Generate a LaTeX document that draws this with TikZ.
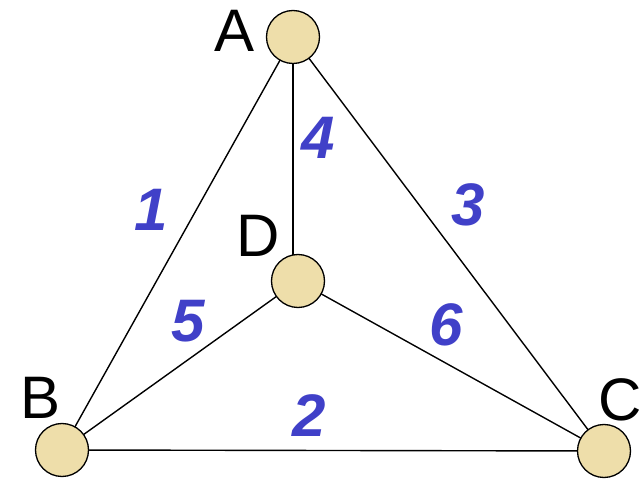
\documentclass[tikz,border=0pt]{standalone}
\usepackage{fontspec}
\setmainfont{Liberation Sans}
\definecolor{vfill}{RGB}{238,222,170}
\definecolor{lblue}{RGB}{64,64,200}
\begin{document}
\begin{tikzpicture}[x=1pt,y=-1pt,
  vertex/.style={circle,draw=black,line width=1.3pt,fill=vfill,minimum size=53pt,inner sep=0pt},
  edge/.style={draw=black,line width=1.4pt},
  vname/.style={font=\fontsize{60}{60}\selectfont,text=black,inner sep=0pt},
  elabel/.style={font=\fontsize{60}{60}\selectfont\bfseries\itshape,text=lblue,inner sep=0pt}]
\useasboundingbox (0,0) rectangle (641,481);
\coordinate (pa) at (293,37);
\coordinate (pb) at (62,450);
\coordinate (pc) at (604,451);
\coordinate (pd) at (298,281);
\coordinate (pdtop) at (293,260);
\draw[edge] (pa) -- (pb);
\draw[edge] (pa) -- (pc);
\draw[edge] (pa) -- (pdtop);
\draw[edge] (pb) -- (pd);
\draw[edge] (pd) -- (pc);
\draw[edge] (pb) -- (pc);
\node[vertex] (A) at (pa) {};
\node[vertex] (B) at (pb) {};
\node[vertex] (C) at (pc) {};
\node[vertex] (D) at (pd) {};
\node[vname] (tA) at (235,31) {A};
\node[vname] (tB) at (41,398) {B};
\node[vname] (tC) at (620,400) {C};
\node[vname] (tD) at (258,236) {D};
\node[elabel] (e1) at (151,210) {1};
\node[elabel] (e2) at (309,416) {2};
\node[elabel] (e3) at (468,205) {3};
\node[elabel] (e4) at (318,138) {4};
\node[elabel] (e5) at (188,321) {5};
\node[elabel] (e6) at (446,325) {6};
\end{tikzpicture}
\end{document}
